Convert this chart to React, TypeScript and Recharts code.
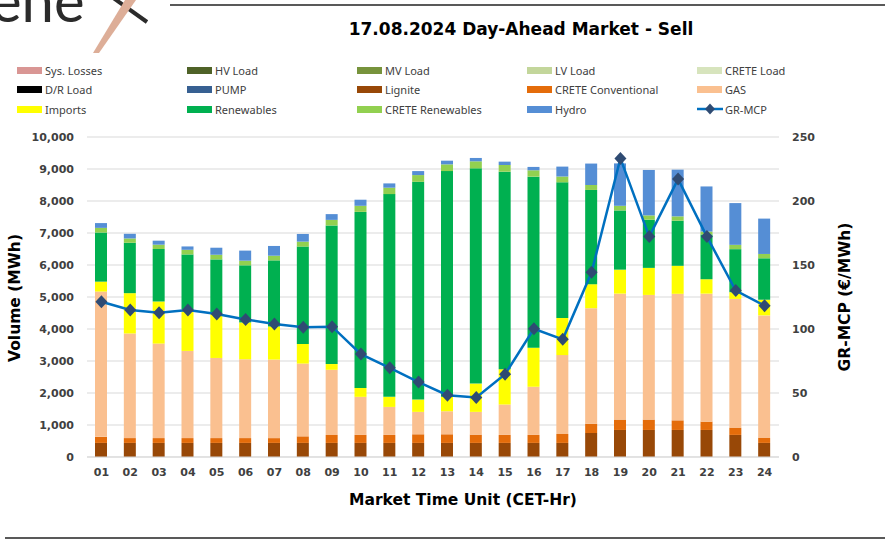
import React from 'react';
import { ComposedChart, Bar, Line, XAxis, YAxis, CartesianGrid, Legend } from 'recharts';

const HOURS = ['01','02','03','04','05','06','07','08','09','10','11','12','13','14','15','16','17','18','19','20','21','22','23','24'];

const LIGNITE = [440,440,440,440,440,440,440,440,440,440,440,440,440,440,440,440,440,750,845,845,845,845,690,440];
const CRETE_CONV = [190,150,150,150,150,150,150,205,250,250,250,270,270,260,250,250,280,290,325,325,300,260,220,155];
const GAS = [4540,3270,2955,2725,2505,2465,2455,2275,2035,1190,875,700,720,710,950,1505,2465,3610,3935,3895,3955,4000,4030,3830];
const IMPORTS = [310,1260,1315,1305,1380,1150,1035,615,180,280,315,385,450,885,1105,1220,1160,750,750,845,875,450,210,490];
const RENEWABLES = [1535,1575,1640,1710,1700,1785,2065,3040,4330,5500,6335,6805,7055,6725,6170,5345,4240,2945,1850,1505,1410,1400,1345,1295];
const CRETE_REN = [145,135,135,145,145,145,145,155,175,190,200,210,210,220,210,200,180,155,145,135,135,90,135,135];
const HYDRO = [150,145,125,105,220,315,305,240,180,190,135,125,115,105,105,105,310,670,1325,1420,1460,1410,1305,1105];
const GR_MCP = [121.3,114.8,112.7,114.8,111.7,107.5,103.9,101.3,101.8,80.4,69.7,58.5,48.3,46.5,64.7,100.2,91.9,144.3,233.3,172.2,217.1,172.2,130.0,118.2];

const VOLUME_TICKS = [0,1000,2000,3000,4000,5000,6000,7000,8000,9000,10000];
const PRICE_TICKS = [0,50,100,150,200,250];

const BAR_SERIES = [
  { key: 'lignite', name: 'Lignite', color: '#984807', values: LIGNITE },
  { key: 'creteConv', name: 'CRETE Conventional', color: '#E46C0A', values: CRETE_CONV },
  { key: 'gas', name: 'GAS', color: '#FAC090', values: GAS },
  { key: 'imports', name: 'Imports', color: '#FFFF00', values: IMPORTS },
  { key: 'renewables', name: 'Renewables', color: '#00B050', values: RENEWABLES },
  { key: 'creteRen', name: 'CRETE Renewables', color: '#92D050', values: CRETE_REN },
  { key: 'hydro', name: 'Hydro', color: '#558ED5', values: HYDRO },
];

const LEGEND_ITEMS = [
  { name: 'Sys. Losses', color: '#D99694' },
  { name: 'HV Load', color: '#4F6228' },
  { name: 'MV Load', color: '#77933C' },
  { name: 'LV Load', color: '#C3D69B' },
  { name: 'CRETE Load', color: '#D7E4BD' },
  { name: 'D/R Load', color: '#000000' },
  { name: 'PUMP', color: '#376092' },
  { name: 'Lignite', color: '#984807' },
  { name: 'CRETE Conventional', color: '#E46C0A' },
  { name: 'GAS', color: '#FAC090' },
  { name: 'Imports', color: '#FFFF00' },
  { name: 'Renewables', color: '#00B050' },
  { name: 'CRETE Renewables', color: '#92D050' },
  { name: 'Hydro', color: '#558ED5' },
  { name: 'GR-MCP', color: '#0070C0', line: true },
];

const LINE_COLOR = '#0070C0';
const MARKER_COLOR = '#2F4B73';
const TICK_STYLE = { fontFamily: 'DejaVu Sans', fontWeight: 'bold', fontSize: 11, fill: '#404040' };

const Diamond = (props: any) => {
  const { cx, cy, index } = props;
  if (cx == null || cy == null) return <g key={`d${index}`} />;
  return (
    <path
      key={`d${index}`}
      d={`M${cx},${cy - 6.5}L${cx + 6},${cy}L${cx},${cy + 6.5}L${cx - 6},${cy}Z`}
      fill={MARKER_COLOR}
    />
  );
};

const renderLegend = () => (
  <div style={{ position: 'relative', width: 891, height: 130 }}>
    {LEGEND_ITEMS.map((it, i) => {
      const col = i % 5;
      const row = Math.floor(i / 5);
      const x = 17 + col * 170;
      const y = 70 + row * 19.5;
      return (
        <div key={it.name} style={{ position: 'absolute', left: x, top: y - 8, height: 16, display: 'flex', alignItems: 'center' }}>
          {it.line ? (
            <svg width={26} height={14} style={{ display: 'block' }}>
              <line x1={0} y1={7} x2={26} y2={7} stroke={LINE_COLOR} strokeWidth={2.5} />
              <path d="M13,1.5L18,7L13,12.5L8,7Z" fill={MARKER_COLOR} />
            </svg>
          ) : (
            <div style={{ width: 25, height: 7, background: it.color, marginRight: 1 }} />
          )}
          <span style={{ marginLeft: 2, fontFamily: 'Noto Sans', fontSize: 11, color: '#404040', whiteSpace: 'nowrap' }}>{it.name}</span>
        </div>
      );
    })}
  </div>
);

export default function App() {
  const data = HOURS.map((h, i) => {
    const row: any = { hour: h, mcp: GR_MCP[i] };
    BAR_SERIES.forEach((s) => { row[s.key] = s.values[i]; });
    return row;
  });

  return (
    <div style={{ position: 'absolute', left: 0, top: 0, width: 891, height: 539, background: '#fff', overflow: 'hidden' }}>
      <svg width={891} height={539} style={{ position: 'absolute', left: 0, top: 0 }}>
        <text x={-9} y={22} fontFamily="Lato" fontWeight={400} fontSize={58} fill="#2b2b2b">ene</text>
        <line x1={112} y1={-3} x2={147} y2={22} stroke="#2b2b2b" strokeWidth={4} />
        <polygon points="125,0 136,0 99,53 93,53" fill="#DDAE98" />
        <line x1={170} y1={5} x2={885} y2={5} stroke="#222" strokeWidth={1.5} />
        <line x1={5} y1={538} x2={885} y2={538} stroke="#222" strokeWidth={1.5} />
        <text x={521} y={29} textAnchor="middle" dominantBaseline="central" fontFamily="DejaVu Sans" fontWeight="bold" fontSize={17} fill="#000">17.08.2024  Day-Ahead Market - Sell</text>
        <text x={15} y={298} transform="rotate(-90 15 298)" textAnchor="middle" dominantBaseline="central" fontFamily="DejaVu Sans" fontWeight="bold" fontSize={15.5} fill="#000">Volume (MWh)</text>
        <text x={845} y={297} transform="rotate(-90 845 297)" textAnchor="middle" dominantBaseline="central" fontFamily="DejaVu Sans" fontWeight="bold" fontSize={15.5} fill="#000">GR-MCP (€/MWh)</text>
        <text x={463} y={500} textAnchor="middle" dominantBaseline="central" fontFamily="DejaVu Sans" fontWeight="bold" fontSize={15.5} fill="#000">Market Time Unit (CET-Hr)</text>
      </svg>
      <div style={{ position: 'absolute', left: 0, top: 0 }}>
        <ComposedChart width={891} height={539} data={data} margin={{ top: 137, right: 0, bottom: 52, left: 0 }}>
          <CartesianGrid yAxisId="left" vertical={false} stroke="#D9D9D9" />
          <XAxis dataKey="hour" height={30} interval={0} tickLine={false} axisLine={{ stroke: '#D9D9D9' }} tickSize={6} tickMargin={5} tick={TICK_STYLE} />
          <YAxis yAxisId="left" width={87} domain={[0, 10000]} ticks={VOLUME_TICKS} tickLine={false} axisLine={false} tickSize={6} tickMargin={7} tick={TICK_STYLE} tickFormatter={(v: number) => v.toLocaleString('en-US')} />
          <YAxis yAxisId="right" orientation="right" width={112} domain={[0, 250]} ticks={PRICE_TICKS} tickLine={false} axisLine={false} tickSize={6} tickMargin={7} tick={TICK_STYLE} />
          <Legend layout="vertical" align="center" verticalAlign="middle" content={renderLegend} wrapperStyle={{ top: 0, left: 0, width: 891, height: 130 }} />
          {BAR_SERIES.map((s) => (
            <Bar key={s.key} yAxisId="left" dataKey={s.key} name={s.name} stackId="sell" fill={s.color} barSize={12} isAnimationActive={false} />
          ))}
          <Line yAxisId="right" type="linear" dataKey="mcp" name="GR-MCP" stroke={LINE_COLOR} strokeWidth={2.5} dot={Diamond} activeDot={false} isAnimationActive={false} />
        </ComposedChart>
      </div>
    </div>
  );
}
